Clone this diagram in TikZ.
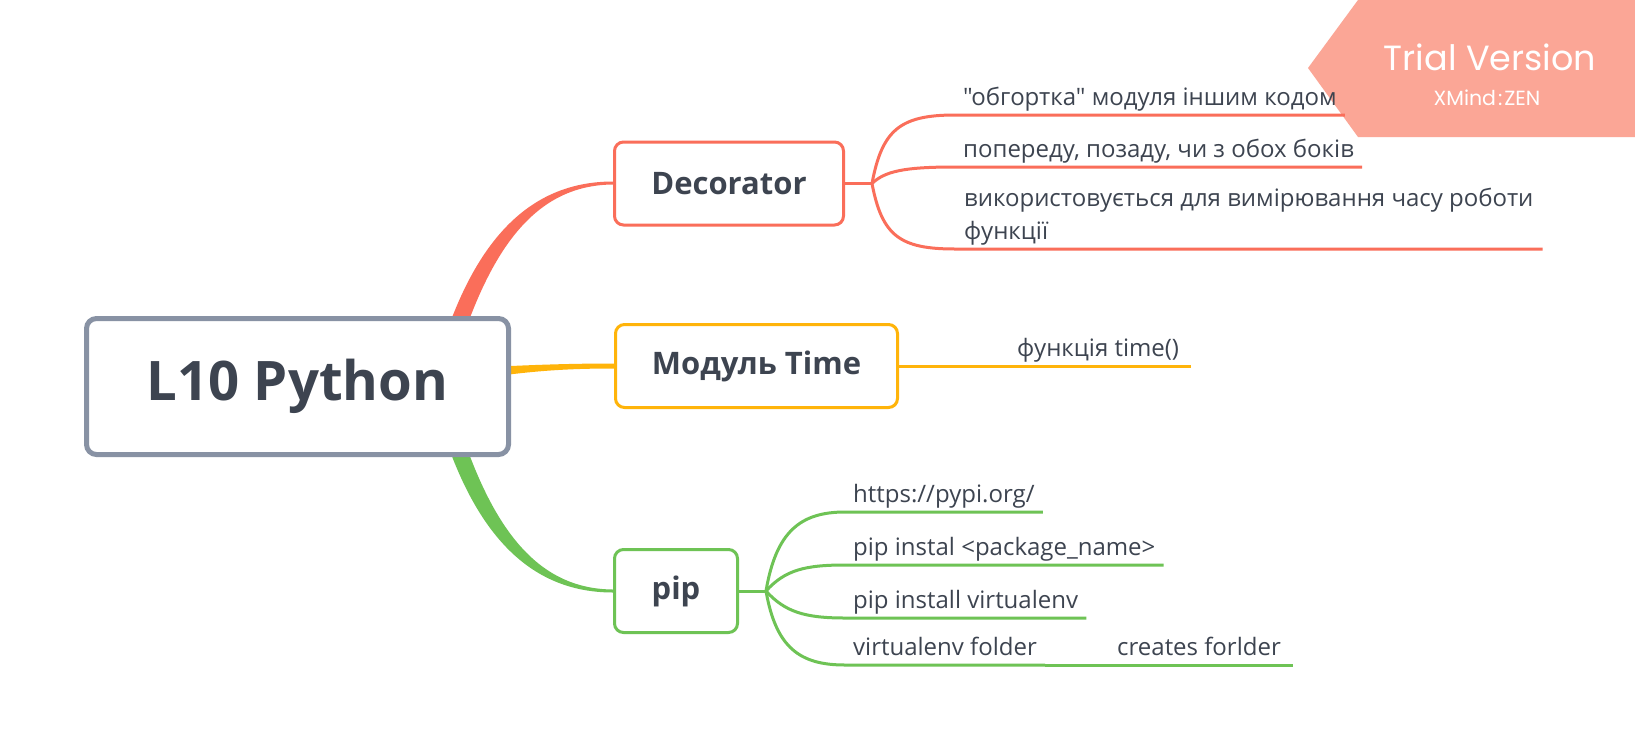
\documentclass[tikz,border=0pt]{standalone}
\usepackage{fontspec}
\setmainfont{Open Sans}
\newfontfamily\leaffont{Open Sans}
\newfontfamily\trialfont{Poppins}
\usetikzlibrary{positioning}
\definecolor{ink}{RGB}{61,68,80}
\definecolor{rootgray}{RGB}{136,146,164}
\definecolor{decored}{RGB}{250,110,90}
\definecolor{timeyellow}{RGB}{255,180,10}
\definecolor{pipgreen}{RGB}{110,195,85}
\definecolor{trialpink}{RGB}{251,166,150}

\tikzset{
  rootbox/.style={draw=rootgray, line width=5pt, rounded corners=10pt, fill=white,
    minimum width=422pt, minimum height=136pt, text=ink,
    font=\bfseries\fontsize{54.5}{60}\selectfont},
  topicbox/.style={draw=#1, line width=3pt, rounded corners=9pt, fill=white,
    minimum height=83pt, inner sep=0pt, text=ink,
    font=\bfseries\fontsize{31}{36}\selectfont},
  leaf/.style={anchor=south west, inner xsep=8pt, inner ysep=9pt, text depth=0pt,
    text=ink, align=left, font=\leaffont\fontsize{24}{33}\selectfont},
  branch/.style={draw=#1, line width=3pt},
}

\begin{document}
\begin{tikzpicture}[x=1pt,y=-1pt]

% canvas
\fill[white] (0,0) rectangle (1635,753);
\useasboundingbox (0,0) rectangle (1635,753);

% Trial banner
\fill[trialpink] (1358,0) -- (1635,0) -- (1635,137) -- (1358,137) -- (1308,68) -- cycle;
\node[text=white, font=\trialfont\fontsize{35}{37}\selectfont] (trial) at (1490,57) {Trial Version};
\node[text=white, font=\trialfont\fontsize{20.5}{22}\selectfont] (zen) at (1487,98) {XMind{\kern2pt}:{\kern2pt}ZEN};

% Tapered main branches (behind the boxes)
\fill[decored] (446,334) .. controls (482,230) and (537,181.5) .. (613,181.5)
  -- (613,184.5) .. controls (543,185) and (497,236) .. (462,340) -- cycle;
\fill[timeyellow] (490,367) .. controls (540,364.5) and (575,363.5) .. (614,363.5)
  -- (614,368.5) .. controls (575,368.5) and (540,370) .. (490,377) -- cycle;
\fill[pipgreen] (446,440) .. controls (482,544) and (537,592.5) .. (613,592.5)
  -- (613,589.5) .. controls (543,589) and (497,538) .. (462,434) -- cycle;

% Central topic
\node[rootbox] (root) at (297.5,386.5) {L10 Python};

% Main topics
\node[topicbox=decored, minimum width=229pt] (deco) at (729,183.5) {Decorator};
\node[topicbox=timeyellow, minimum width=282pt] (time) at (756.5,366) {Модуль Time};
\node[topicbox=pipgreen, minimum width=123pt] (pip) at (676,591) {pip};

% Decorator leaves
\coordinate (decofork) at (872,183.5);
\node[leaf] (wrap) at (955,115) {"обгортка" модуля іншим кодом};
\node[leaf] (sides) at (955,167) {попереду, позаду, чи з обох боків};
\node[leaf, inner xsep=9pt] (timing) at (955,249) {використовується для вимірювання часу роботи\\функції};

\draw[branch=decored] (deco.east) -- (decofork);
\draw[branch=decored] (decofork) .. controls (882,130) and (900,115) .. (wrap.south west) -- (wrap.south east);
\draw[branch=decored] (decofork) .. controls (885,171) and (905,167) .. (sides.south west) -- (sides.south east);
\draw[branch=decored] (decofork) .. controls (882,236) and (900,249) .. (timing.south west) -- (timing.south east);

% Time leaf
\node[leaf, inner xsep=12pt] (func) at (1005,366) {функція time()};
\draw[branch=timeyellow] (time.east) -- (func.south west) -- (func.south east);

% pip leaves
\coordinate (pipfork) at (766,591);
\node[leaf] (pypi) at (845,512) {https://pypi.org/};
\node[leaf] (instal) at (845,565) {pip instal <package\_name>};
\node[leaf] (venv) at (845,618) {pip install virtualenv};
\node[leaf] (folder) at (845,665) {virtualenv folder};
\node[leaf, inner xsep=12pt] (creates) at (1105,665) {creates forlder};

\draw[branch=pipgreen] (pip.east) -- (pipfork);
\draw[branch=pipgreen] (pipfork) .. controls (776,532) and (800,512) .. (pypi.south west) -- (pypi.south east);
\draw[branch=pipgreen] (pipfork) .. controls (785,570) and (805,565) .. (instal.south west) -- (instal.south east);
\draw[branch=pipgreen] (pipfork) .. controls (785,612) and (805,618) .. (venv.south west) -- (venv.south east);
\draw[branch=pipgreen] (pipfork) .. controls (776,648) and (800,665) .. (folder.south west) -- (folder.south east);
\draw[branch=pipgreen] (folder.south east) -- (creates.south west) -- (creates.south east);

\end{tikzpicture}
\end{document}
